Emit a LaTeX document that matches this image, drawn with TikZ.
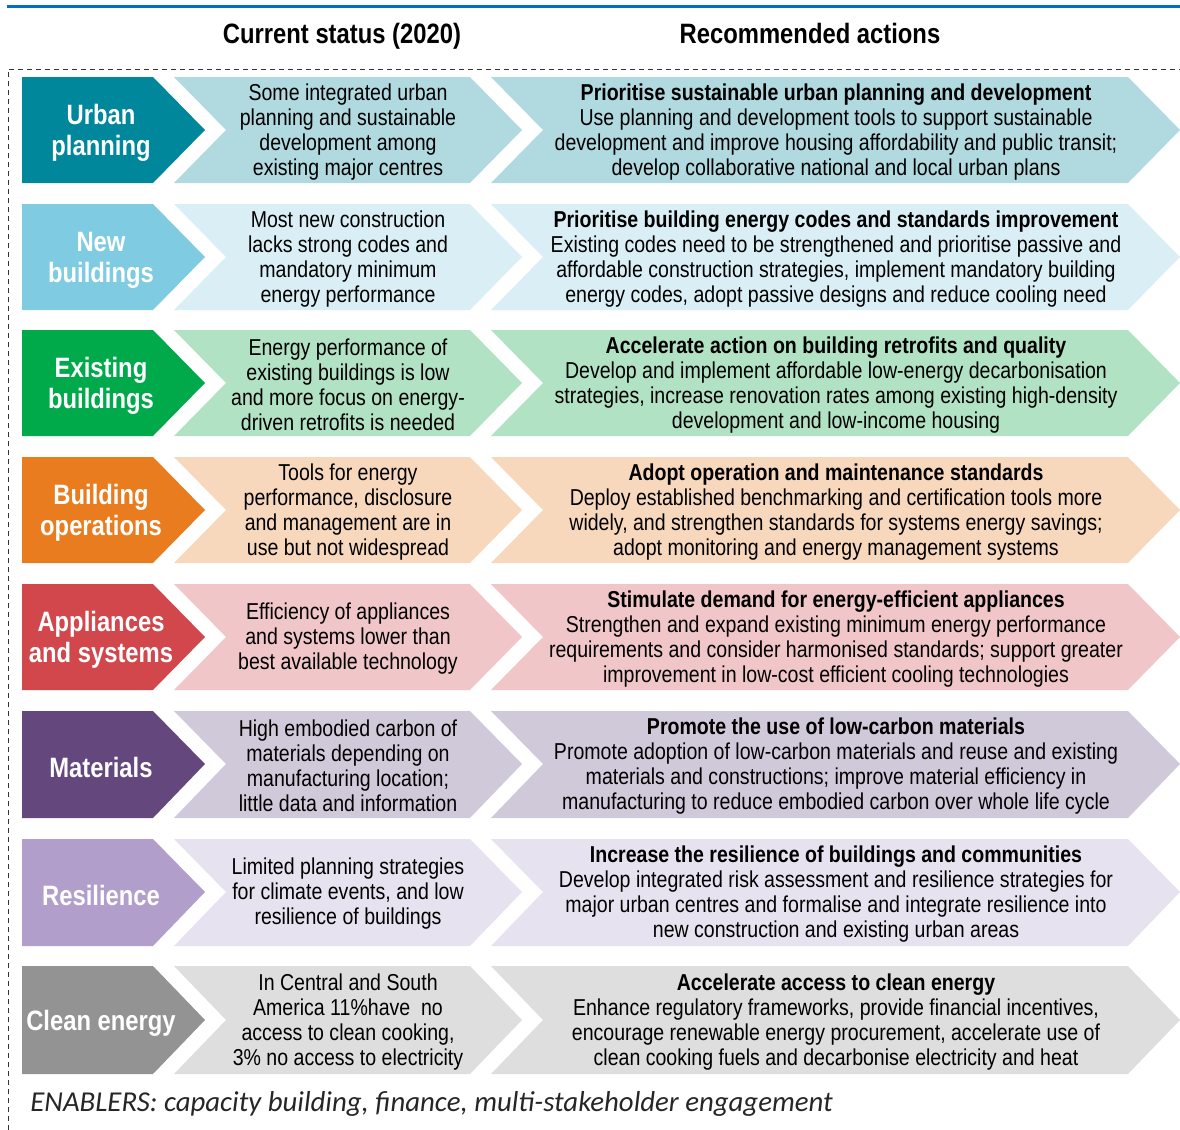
\documentclass[tikz,border=0pt]{standalone}
\usepackage{fontspec}
\usepackage{tikz}
\setmainfont{Liberation Sans}
\newfontfamily\narrowfont{Liberation Sans}[FakeStretch=0.85]
\newfontfamily\enablerfont{Carlito}

\definecolor{topblue}{RGB}{0,112,192}
\definecolor{urbanD}{RGB}{0,135,155}
\definecolor{urbanL}{RGB}{176,218,224}
\definecolor{newD}{RGB}{127,204,226}
\definecolor{newL}{RGB}{218,239,245}
\definecolor{existD}{RGB}{0,170,75}
\definecolor{existL}{RGB}{178,226,196}
\definecolor{opsD}{RGB}{232,124,30}
\definecolor{opsL}{RGB}{248,216,188}
\definecolor{applD}{RGB}{209,71,76}
\definecolor{applL}{RGB}{240,198,200}
\definecolor{matD}{RGB}{99,71,125}
\definecolor{matL}{RGB}{208,201,218}
\definecolor{resD}{RGB}{178,158,202}
\definecolor{resL}{RGB}{231,226,239}
\definecolor{cleanD}{RGB}{147,147,147}
\definecolor{cleanL}{RGB}{222,222,222}

\begin{document}
\begin{tikzpicture}[x=0.5pt, y=-0.5pt,
	head/.style={font=\narrowfont\bfseries\fontsize{14}{16}\selectfont, anchor=base, inner sep=0pt},
	lab/.style={text=white, font=\narrowfont\bfseries\fontsize{14}{15.5}\selectfont, align=center, inner sep=0pt, yshift=-1.5pt},
	now/.style={font=\narrowfont\fontsize{11.5}{12.5}\selectfont, align=center, inner sep=0pt, yshift=-1pt}]
	\useasboundingbox (0, 0) rectangle (1180, 1130);

	\draw[line width=1.5pt, topblue] (7, 6) -- (1180, 6);
	\draw[dash pattern=on 2.5pt off 2pt, line width=0.5pt, black!80] (8, 1130) -- (8, 69) -- (1180, 69);

	\node[head] (head_now) at (342, 43) {Current status (2020)};
	\node[head] (head_act) at (810, 43) {Recommended actions};

	% Urban planning
	\fill[urbanD] (22, 77) -- (153, 77) -- (205, 130) -- (153, 183) -- (22, 183) -- cycle;
	\fill[urbanL] (174, 77) -- (470, 77) -- (522, 130) -- (470, 183) -- (174, 183) -- (226, 130) -- cycle;
	\fill[urbanL] (491, 77) -- (1128, 77) -- (1180, 130) -- (1128, 183) -- (491, 183) -- (543, 130) -- cycle;
	\node[lab] (urban) at (101, 130) {Urban\\planning};
	\node[now] (urban_now) at (348, 130) {Some integrated urban\\planning and sustainable\\development among\\existing major centres};
	\node[now] (urban_act) at (836, 130) {\bfseries Prioritise sustainable urban planning and development\\Use planning and development tools to support sustainable\\development and improve housing affordability and public transit;\\develop collaborative national and local urban plans};

	% New buildings
	\fill[newD] (22, 204) -- (153, 204) -- (205, 257) -- (153, 310) -- (22, 310) -- cycle;
	\fill[newL] (174, 204) -- (470, 204) -- (522, 257) -- (470, 310) -- (174, 310) -- (226, 257) -- cycle;
	\fill[newL] (491, 204) -- (1128, 204) -- (1180, 257) -- (1128, 310) -- (491, 310) -- (543, 257) -- cycle;
	\node[lab] (newbld) at (101, 257) {New\\buildings};
	\node[now] (newbld_now) at (348, 257) {Most new construction\\lacks strong codes and\\mandatory minimum\\energy performance};
	\node[now] (newbld_act) at (836, 257) {\bfseries Prioritise building energy codes and standards improvement\\Existing codes need to be strengthened and prioritise passive and\\affordable construction strategies, implement mandatory building\\energy codes, adopt passive designs and reduce cooling need};

	% Existing buildings
	\fill[existD] (22, 330) -- (153, 330) -- (205, 383) -- (153, 436) -- (22, 436) -- cycle;
	\fill[existL] (174, 330) -- (470, 330) -- (522, 383) -- (470, 436) -- (174, 436) -- (226, 383) -- cycle;
	\fill[existL] (491, 330) -- (1128, 330) -- (1180, 383) -- (1128, 436) -- (491, 436) -- (543, 383) -- cycle;
	\node[lab] (exist) at (101, 383) {Existing\\buildings};
	\node[now] (exist_now) at (348, 383) {Energy performance of\\existing buildings is low\\and more focus on energy-\\driven retrofits is needed};
	\node[now] (exist_act) at (836, 383) {\bfseries Accelerate action on building retrofits and quality\\Develop and implement affordable low-energy decarbonisation\\strategies, increase renovation rates among existing high-density\\development and low-income housing};

	% Building operations
	\fill[opsD] (22, 457) -- (153, 457) -- (205, 510) -- (153, 563) -- (22, 563) -- cycle;
	\fill[opsL] (174, 457) -- (470, 457) -- (522, 510) -- (470, 563) -- (174, 563) -- (226, 510) -- cycle;
	\fill[opsL] (491, 457) -- (1128, 457) -- (1180, 510) -- (1128, 563) -- (491, 563) -- (543, 510) -- cycle;
	\node[lab] (ops) at (101, 510) {Building\\operations};
	\node[now] (ops_now) at (348, 510) {Tools for energy\\performance, disclosure\\and management are in\\use but not widespread};
	\node[now] (ops_act) at (836, 510) {\bfseries Adopt operation and maintenance standards\\Deploy established benchmarking and certification tools more\\widely, and strengthen standards for systems energy savings;\\adopt monitoring and energy management systems};

	% Appliances and systems
	\fill[applD] (22, 584) -- (153, 584) -- (205, 637) -- (153, 690) -- (22, 690) -- cycle;
	\fill[applL] (174, 584) -- (470, 584) -- (522, 637) -- (470, 690) -- (174, 690) -- (226, 637) -- cycle;
	\fill[applL] (491, 584) -- (1128, 584) -- (1180, 637) -- (1128, 690) -- (491, 690) -- (543, 637) -- cycle;
	\node[lab] (appl) at (101, 637) {Appliances\\and systems};
	\node[now] (appl_now) at (348, 637) {Efficiency of appliances\\and systems lower than\\best available technology};
	\node[now] (appl_act) at (836, 637) {\bfseries Stimulate demand for energy-efficient appliances\\Strengthen and expand existing minimum energy performance\\requirements and consider harmonised standards; support greater\\improvement in low-cost efficient cooling technologies};

	% Materials
	\fill[matD] (22, 711) -- (153, 711) -- (205, 764) -- (153, 818) -- (22, 818) -- cycle;
	\fill[matL] (174, 711) -- (470, 711) -- (522, 764) -- (470, 818) -- (174, 818) -- (226, 764) -- cycle;
	\fill[matL] (491, 711) -- (1128, 711) -- (1180, 764) -- (1128, 818) -- (491, 818) -- (543, 764) -- cycle;
	\node[lab] (mat) at (101, 764) {Materials};
	\node[now] (mat_now) at (348, 764) {High embodied carbon of\\materials depending on\\manufacturing location;\\little data and information};
	\node[now] (mat_act) at (836, 764) {\bfseries Promote the use of low-carbon materials\\Promote adoption of low-carbon materials and reuse and existing\\materials and constructions; improve material efficiency in\\manufacturing to reduce embodied carbon over whole life cycle};

	% Resilience
	\fill[resD] (22, 839) -- (153, 839) -- (205, 892) -- (153, 946) -- (22, 946) -- cycle;
	\fill[resL] (174, 839) -- (470, 839) -- (522, 892) -- (470, 946) -- (174, 946) -- (226, 892) -- cycle;
	\fill[resL] (491, 839) -- (1128, 839) -- (1180, 892) -- (1128, 946) -- (491, 946) -- (543, 892) -- cycle;
	\node[lab] (res) at (101, 892) {Resilience};
	\node[now] (res_now) at (348, 892) {Limited planning strategies\\for climate events, and low\\resilience of buildings};
	\node[now] (res_act) at (836, 892) {\bfseries Increase the resilience of buildings and communities\\Develop integrated risk assessment and resilience strategies for\\major urban centres and formalise and integrate resilience into\\new construction and existing urban areas};

	% Clean energy
	\fill[cleanD] (22, 966) -- (153, 966) -- (205, 1020) -- (153, 1074) -- (22, 1074) -- cycle;
	\fill[cleanL] (174, 966) -- (470, 966) -- (522, 1020) -- (470, 1074) -- (174, 1074) -- (226, 1020) -- cycle;
	\fill[cleanL] (491, 966) -- (1128, 966) -- (1180, 1020) -- (1128, 1074) -- (491, 1074) -- (543, 1020) -- cycle;
	\node[lab] (clean) at (101, 1020) {Clean energy};
	\node[now] (clean_now) at (348, 1020) {In Central and South\\America 11\%have~ no\\access to clean cooking,\\3\% no access to electricity};
	\node[now] (clean_act) at (836, 1020) {\bfseries Accelerate access to clean energy\\Enhance regulatory frameworks, provide financial incentives,\\encourage renewable energy procurement, accelerate use of\\clean cooking fuels and decarbonise electricity and heat};

	\node[font=\enablerfont\itshape\fontsize{14.4}{16}\selectfont, text=black!85, anchor=base west, inner sep=0pt] (enablers) at (30, 1111) {ENABLERS: capacity building, finance, multi-stakeholder engagement};
\end{tikzpicture}
\end{document}
